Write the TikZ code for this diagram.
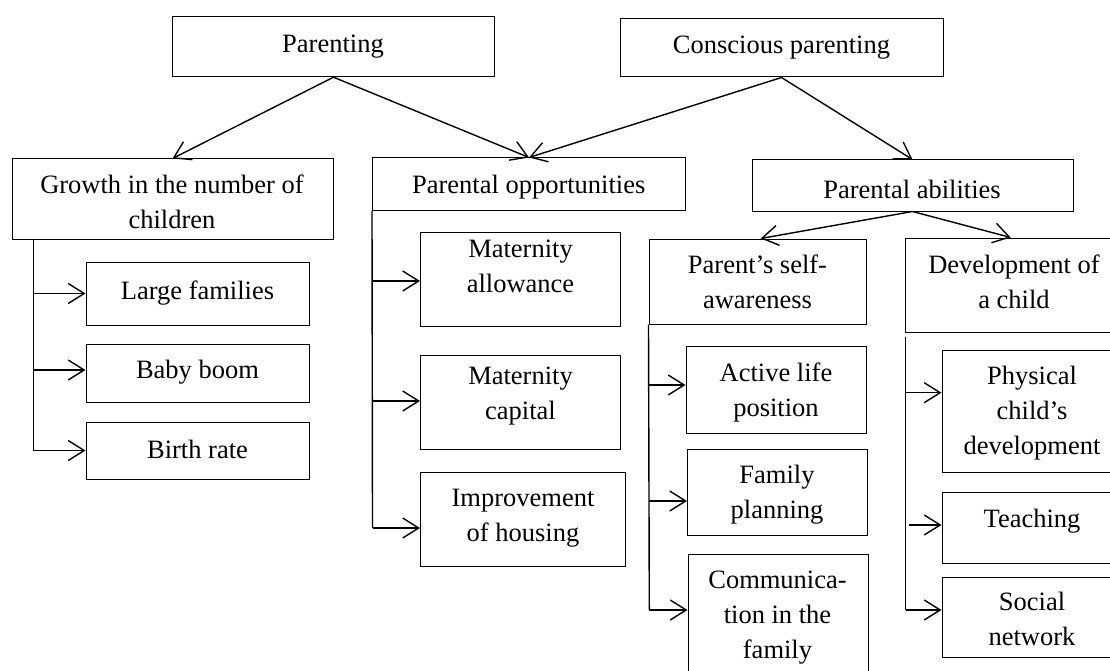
\documentclass[tikz,border=0pt]{standalone}
\usepackage{fontspec}
\setmainfont{Liberation Serif}
\usetikzlibrary{arrows.meta,fit}
\begin{document}
\begin{tikzpicture}[x=1pt,y=-1pt,
  box/.style={draw,line width=1pt,inner sep=0pt,rectangle},
  txt/.style={inner sep=0pt,align=center,font=\fontsize{26.5pt}{35pt}\selectfont},
  arr/.style={line width=1.4pt,-{Straight Barb[length=16pt,width=20pt,line width=1.4pt]}},
  ln/.style={line width=1.4pt}]
\useasboundingbox (0,0) rectangle (1110,671);
% boxes
\node[box,fit={(172.5,16.7)(494.5,76.7)}] (par) {};
\node[box,fit={(620,19)(943,77)}] (cpar) {};
\node[box,fit={(12,159)(333,239)}] (gro) {};
\node[box,fit={(372.5,158)(685.5,210.5)}] (opp) {};
\node[box,fit={(752,160)(1073,211)}] (abi) {};
\node[box,fit={(86,262)(309,325)}] (lar) {};
\node[box,fit={(86,344)(309,402)}] (bab) {};
\node[box,fit={(86,422)(309,479)}] (bir) {};
\node[box,fit={(420.5,232.5)(620.5,326.5)}] (mal) {};
\node[box,fit={(420.5,355)(620.5,449)}] (mca) {};
\node[box,fit={(420.5,472.5)(625.5,566.5)}] (imp) {};
\node[box,fit={(649,239)(866,324)}] (pse) {};
\node[box,fit={(686,346.5)(866,433.5)}] (act) {};
\node[box,fit={(687.5,449)(867.5,535)}] (fam) {};
\node[box,fit={(688,554)(868,680)}] (com) {};
\node[box,fit={(905.5,238)(1122,332)}] (dev) {};
\node[box,fit={(942,350.5)(1122,472.5)}] (phy) {};
\node[box,fit={(942,492.5)(1122,563)}] (tea) {};
\node[box,fit={(942,577)(1122,657.5)}] (soc) {};
% texts
\node[txt] (tpar) at (333,46.5) {Parenting};
\node[txt] (tcpar) at (781.5,48) {Conscious parenting};
\node[txt] (tgro) at (172,201.8) {Growth in the number of\\children};
\node[txt] (topp) at (528.7,187.3) {Parental opportunities};
\node[txt] (tabi) at (912,189) {Parental abilities};
\node[txt] (tlar) at (197.5,293) {Large families};
\node[txt] (tbab) at (197.5,372.3) {Baby boom};
\node[txt] (tbir) at (197.5,449.5) {Birth rate};
\node[txt] (tmal) at (520.5,266.7) {Maternity\\allowance};
\node[txt] (tmca) at (520.5,395.7) {Maternity\\capital};
\node[txt] (timp) at (523,518.5) {Improvement\\of housing};
\node[txt] (tpse) at (757.5,281.8) {Parent’s self-\\awareness};
\node[txt] (tact) at (776,392) {Active life\\position};
\node[txt] (tfam) at (777,495) {Family\\planning};
\node[txt] (tcom) at (777.5,617.3) {Communica-\\tion in the\\family};
\node[txt] (tdev) at (1014,281.5) {Development of\\a child};
\node[txt] (tphy) at (1032,413.5) {Physical\\child’s\\development};
\node[txt] (ttea) at (1032,521.3) {Teaching};
\node[txt] (tsoc) at (1032,618.5) {Social\\network};
% top connectors
\draw[arr] (par.south) -- (gro.north);
\draw[arr] (par.south) -- (opp.north);
\draw[arr] (cpar.south) -- (opp.north);
\draw[arr] (cpar.south) -- (abi.north);
\draw[arr] (abi.south) -- (760.7,0 |- pse.north);
\draw[arr] (abi.south) -- (1010.7,0 |- dev.north);
% growth branch
\coordinate (g0) at (33.5,0 |- gro.south);
\coordinate (g1) at (33.5,0 |- bir.west);
\draw[ln] (g0) -- (g1);
\draw[arr] (g0 |- lar.west) -- (lar.west);
\draw[arr] (33.5,370) -- (bab.west |- 0,370);
\draw[arr] (g1) -- (bir.west);
% opportunities branch
\coordinate (o1) at (372.5,528);
\draw[ln] (opp.south west) -- (o1);
\draw[arr] (372.5,281) -- (mal.west |- 0,281);
\draw[arr] (372.5,401) -- (mca.west |- 0,401);
\draw[arr] (o1) -- (imp.west |- o1);
% self-awareness branch
\coordinate (p1) at (649.3,610);
\draw[ln] (pse.south west) -- (p1);
\draw[arr] (649.3,385) -- (act.west |- 0,385);
\draw[arr] (649.3,501) -- (fam.west |- 0,501);
\draw[arr] (p1) -- (com.west |- p1);
% development branch
\coordinate (d0) at (905.7,336.7);
\coordinate (d1) at (905.7,610);
\draw[ln] (d0) -- (d1);
\draw[arr] (905.7,392.7) -- (phy.west |- 0,392.7);
\draw[arr] (909,525) -- (tea.west |- 0,525);
\draw[arr] (d1) -- (soc.west |- d1);
\end{tikzpicture}
\end{document}
